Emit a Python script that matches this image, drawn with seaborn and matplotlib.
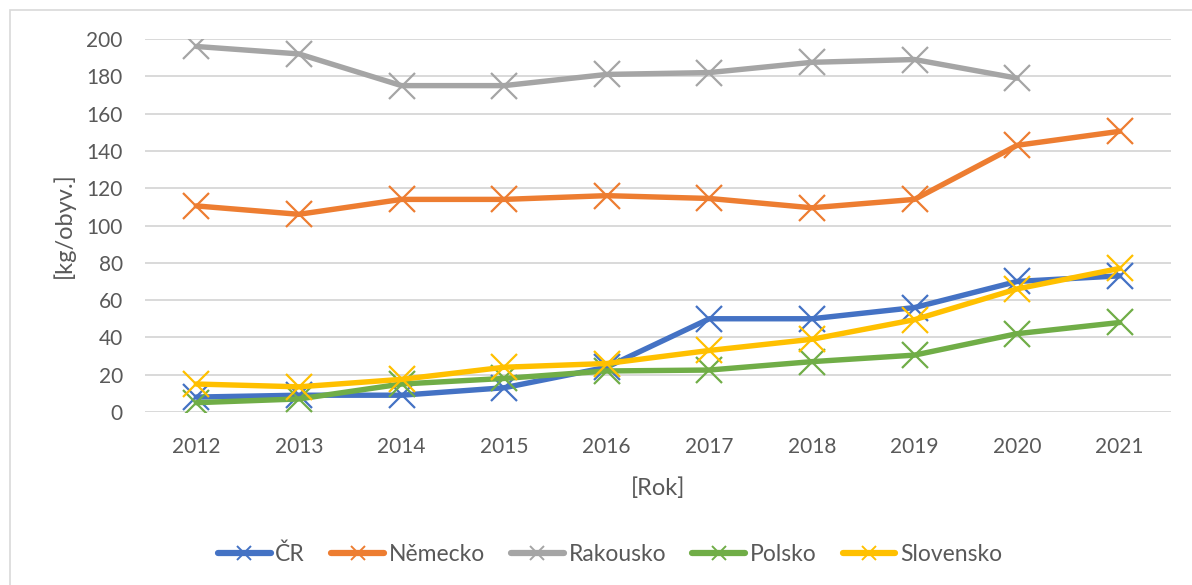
import matplotlib
matplotlib.use("Agg")
import matplotlib.pyplot as plt
import seaborn as sns
import pandas as pd
import numpy as np
from matplotlib.lines import Line2D
from matplotlib.patches import Rectangle

years = [2012, 2013, 2014, 2015, 2016, 2017, 2018, 2019, 2020, 2021]
cr = [8, 9, 9, 13, 24, 50, 50, 56, 70, 73]
nemecko = [110.5, 106, 114, 114, 116, 114.5, 109.5, 114, 143, 150.5]
rakousko = [196, 192, 175, 175, 181, 182, 187.5, 189, 179, np.nan]
polsko = [5, 7, 15, 18, 22, 22.5, 27, 30.5, 42, 48]
slovensko = [15, 13.5, 17.5, 24, 26, 33, 39, 49.5, 66, 77]

series_names = ["ČR", "Německo", "Rakousko", "Polsko", "Slovensko"]
series_values = [cr, nemecko, rakousko, polsko, slovensko]
colors = ["#4472C4", "#ED7D31", "#A5A5A5", "#70AD47", "#FFC000"]

rows = []
for name, vals in zip(series_names, series_values):
    for y, v in zip(years, vals):
        rows.append({"Rok": y, "Hodnota": v, "Země": name})
df = pd.DataFrame(rows).dropna()

sns.set_theme(style="white")
plt.rcParams["font.family"] = ["Lato", "DejaVu Sans"]
text_color = "#595959"

fig = plt.figure(figsize=(11.92, 5.85), dpi=100)
fig.patch.set_facecolor("white")
# chart area border (only left/top visible in reference)
fig.patches.append(Rectangle((10 / 1192, -0.1), 1.2, 1 - 10 / 585 + 0.1,
                             transform=fig.transFigure, fill=False,
                             edgecolor="#D9D9D9", linewidth=1.2, zorder=0))

ax = fig.add_axes([145 / 1192, 1 - 412 / 585, 1026 / 1192, 373 / 585])

sns.lineplot(data=df, x="Rok", y="Hodnota", hue="Země", hue_order=series_names,
             palette=colors, marker="x", markersize=19, markeredgewidth=1.6,
             linewidth=3.9, ax=ax, legend=False, zorder=3)
for line, c in zip(ax.lines, colors):
    line.set_markeredgecolor(c)
    line.set_markerfacecolor(c)

ax.set_xlim(2011.5, 2021.5)
ax.set_ylim(0, 200)
ax.set_yticks(np.arange(0, 201, 20))
ax.set_xticks(years)
ax.set_xticklabels([str(y) for y in years])
ax.grid(axis="y", color="#D9D9D9", linewidth=1.4, zorder=0)
ax.grid(axis="x", visible=False)
ax.set_axisbelow(True)
for s in ax.spines.values():
    s.set_visible(False)
ax.tick_params(axis="both", length=0, labelsize=15, labelcolor=text_color)
ax.tick_params(axis="y", pad=16)
ax.tick_params(axis="x", pad=18)

ax.set_xlabel("[Rok]", fontsize=17, color=text_color)
ax.set_ylabel("[kg/obyv.]", fontsize=17, color=text_color)
ax.xaxis.set_label_coords(0.5, -0.174)
ax.yaxis.set_label_coords(-0.068, 0.5)

handles = [Line2D([0], [0], color=c, linewidth=4.5, marker="x", markersize=10,
                  markeredgewidth=1.4, solid_capstyle="round") for c in colors]
leg = fig.legend(handles, series_names, loc="center", bbox_to_anchor=(610 / 1192, 1 - 554 / 585),
                 ncol=5, frameon=False, fontsize=16.5, handlelength=2.3,
                 handletextpad=0.2, columnspacing=1.15)
for t in leg.get_texts():
    t.set_color(text_color)

fig.savefig("out.png", dpi=100, facecolor="white")
